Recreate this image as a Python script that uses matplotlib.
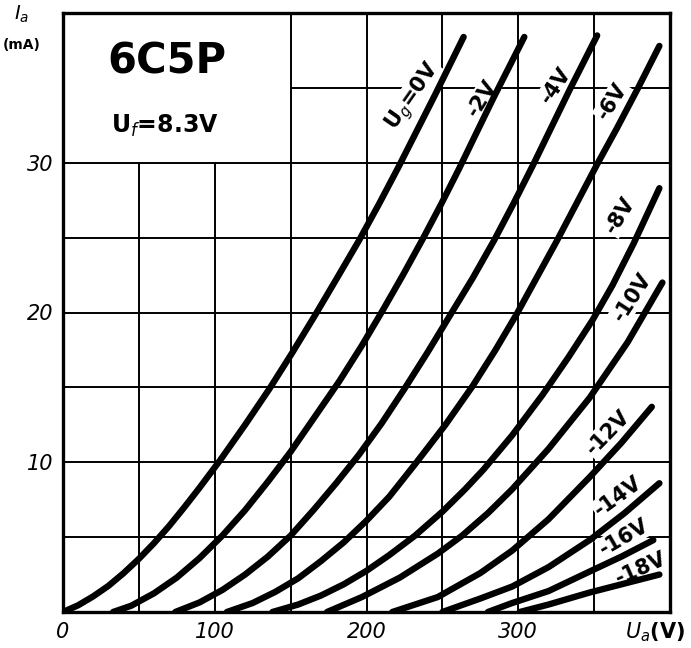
import numpy as np
import matplotlib.pyplot as plt

# anode characteristics of the 6C5P triode
# (anode voltage in V, anode current in mA) for each grid voltage
ua_0 = [0, 10, 20, 30, 40, 50, 60, 70, 80, 90, 104, 120, 136, 151, 166, 180, 195, 208, 221, 233, 245, 264]
ia_0 = [0, 0.45, 1.05, 1.75, 2.6, 3.55, 4.6, 5.75, 7.0, 8.3, 10.2, 12.5, 14.9, 17.3, 19.8, 22.2, 24.8,
        27.2, 29.7, 32.1, 34.5, 38.4]

ua_2 = [33, 45, 60, 75, 90, 105, 120, 135, 150, 165, 182, 197, 211, 224, 237, 249, 261, 272, 284, 304]
ia_2 = [0, 0.42, 1.25, 2.3, 3.6, 5.1, 6.8, 8.7, 10.7, 12.9, 15.4, 17.8, 20.2, 22.5, 24.9, 27.2, 29.6,
        31.9, 34.4, 38.4]

ua_4 = [74, 90, 105, 120, 135, 150, 165, 180, 195, 210, 225, 240, 255, 270, 284, 297, 310, 322, 334, 352]
ia_4 = [0, 0.64, 1.47, 2.5, 3.7, 5.1, 6.8, 8.6, 10.5, 12.6, 14.9, 17.3, 19.8, 22.3, 24.8, 27.3, 29.9,
        32.4, 34.9, 38.5]

ua_6 = [108, 125, 140, 155, 170, 185, 200, 215, 233, 252, 270, 285, 299, 312, 325, 338, 352, 365, 379, 393]
ia_6 = [0, 0.6, 1.35, 2.25, 3.4, 4.65, 6.1, 7.7, 10.0, 12.5, 15.1, 17.5, 19.9, 22.3, 24.7, 27.2, 29.9,
        32.3, 35.0, 37.8]

ua_8 = [138, 155, 170, 185, 200, 215, 232, 250, 265, 277, 296, 316, 333, 349, 362, 376, 393]
ia_8 = [0, 0.5, 1.1, 1.85, 2.75, 3.8, 5.1, 6.7, 8.2, 9.5, 11.8, 14.5, 17.0, 19.5, 21.8, 24.6, 28.3]

ua_10 = [174, 197, 222, 247, 263, 280, 296, 320, 347, 372, 395]
ia_10 = [0, 1.0, 2.3, 3.9, 5.1, 6.6, 8.2, 10.9, 14.3, 18, 22]

ua_12 = [217, 247, 275, 296, 320, 347, 368, 388]
ia_12 = [0, 1.0, 2.6, 4.1, 6.2, 9.0, 11.3, 13.7]

ua_14 = [250, 275, 296, 320, 347, 370, 393]
ia_14 = [0, 0.9, 1.7, 3.0, 4.8, 6.6, 8.6]

ua_16 = [280, 296, 320, 347, 368, 389]
ia_16 = [0, 0.6, 1.4, 2.7, 3.7, 4.8]

ua_18 = [301, 320, 347, 370, 393]
ia_18 = [0, 0.5, 1.3, 1.9, 2.5]

curves = [(ua_0, ia_0), (ua_2, ia_2), (ua_4, ia_4), (ua_6, ia_6), (ua_8, ia_8),
          (ua_10, ia_10), (ua_12, ia_12), (ua_14, ia_14), (ua_16, ia_16), (ua_18, ia_18)]

curve_labels = ['U$_g$=0V', '-2V', '-4V', '-6V', '-8V', '-10V', '-12V', '-14V', '-16V', '-18V']
label_ua = [231, 276, 325, 362, 367, 375, 359, 366, 370, 381]
label_ia = [34.4, 34.3, 35.2, 34.1, 26.5, 21.0, 12.0, 7.7, 5.0, 2.9]
label_rot = [55, 58, 56, 58, 58, 57, 46, 36, 30, 24]

x_ticks = [0, 100, 200, 300]
y_ticks = [10, 20, 30]

fig = plt.figure(figsize=(6.91, 6.48), dpi=100)
ax = fig.add_axes([63 / 691, 36 / 648, 607 / 691, 599 / 648])
ax.set_xlim(0, 400)
ax.set_ylim(0, 40)

# grid, leaving the title box in the top-left corner empty
for v in range(50, 400, 50):
    top = 30 if v < 150 else 40
    ax.plot([v, v], [0, top], color='black', lw=1.4, zorder=1)
for i in range(5, 40, 5):
    left = 150 if i > 30 else 0
    ax.plot([left, 400], [i, i], color='black', lw=1.4, zorder=1)

for ua, ia in curves:
    ax.plot(ua, ia, color='black', lw=4.6, solid_capstyle='round',
            solid_joinstyle='round', zorder=3)

for txt, x, y, r in zip(curve_labels, label_ua, label_ia, label_rot):
    ax.text(x, y, txt, rotation=r, rotation_mode='anchor', ha='center', va='center',
            fontsize=15, fontweight='bold', zorder=2,
            bbox=dict(facecolor='white', edgecolor='none', pad=1))

for s in ax.spines.values():
    s.set_linewidth(2.4)

ax.set_xticks(x_ticks)
ax.set_xticklabels([str(t) for t in x_ticks], fontsize=15, fontstyle='italic')
ax.set_yticks(y_ticks)
ax.set_yticklabels([str(t) for t in y_ticks], fontsize=15, fontstyle='italic')
ax.tick_params(length=0, pad=7)

fig.text(22 / 691, 1 - 14 / 648, '$I_a$', fontsize=14, ha='center', va='center')
fig.text(22 / 691, 1 - 45 / 648, '(mA)', fontsize=10, fontweight='bold',
         ha='center', va='center')
fig.text(655 / 691, 1 - 632 / 648, '$U_a$(V)', fontsize=15, fontweight='bold',
         ha='center', va='center')

fig.text(167 / 691, 1 - 62 / 648, '6C5P', fontsize=30, fontweight='bold',
         ha='center', va='center')
fig.text(165 / 691, 1 - 126 / 648, 'U$_f$=8.3V', fontsize=17, fontweight='bold',
         ha='center', va='center')

fig.savefig('out.png', dpi=100)
